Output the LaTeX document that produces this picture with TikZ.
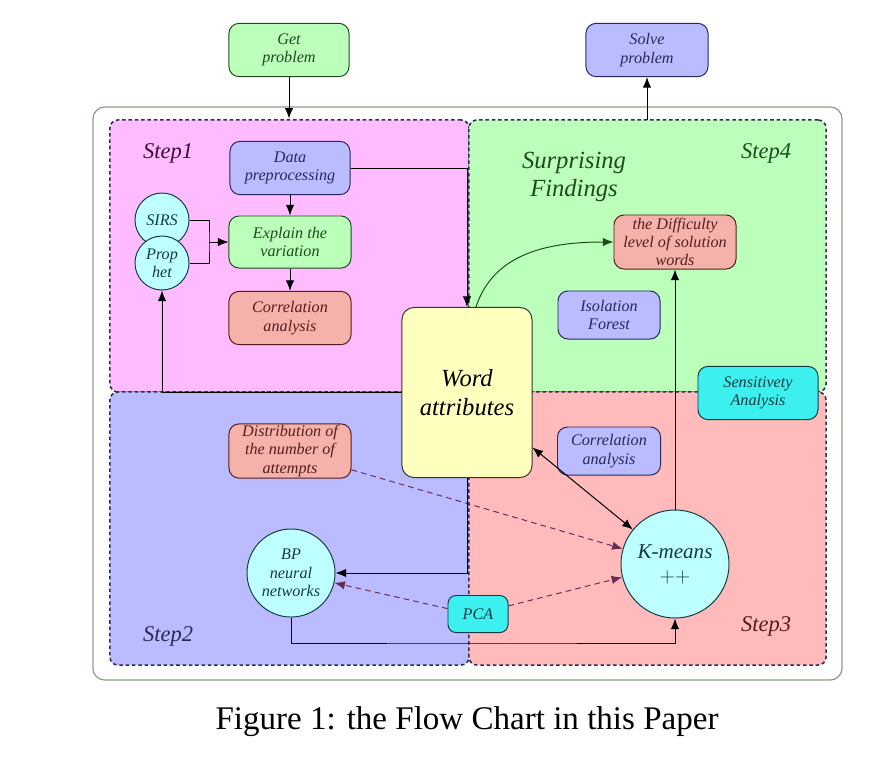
\documentclass[tikz,border=0pt]{standalone}
\usepackage{fontspec}
\setmainfont{Liberation Serif}
\usepackage{tikz}
\usetikzlibrary{arrows.meta}
\usepackage{xcolor}

\definecolor{pinkbg}{RGB}{255,187,255}
\definecolor{greenbg}{RGB}{187,255,187}
\definecolor{bluebg}{RGB}{187,187,255}
\definecolor{redbg}{RGB}{255,187,187}
\definecolor{nodered}{RGB}{245,178,170}
\definecolor{cyanlt}{RGB}{190,255,255}
\definecolor{cyandk}{RGB}{60,240,240}
\definecolor{yellowbg}{RGB}{255,255,190}
\definecolor{greenln}{RGB}{30,75,30}
\definecolor{blueln}{RGB}{40,40,90}
\definecolor{redln}{RGB}{85,30,30}
\definecolor{tealln}{RGB}{20,60,65}
\definecolor{regionln}{RGB}{45,45,80}
\definecolor{frameln}{RGB}{140,160,135}
\definecolor{dashln}{RGB}{105,45,85}

\tikzset{
  box/.style={draw, rounded corners=0.25cm, align=center, minimum width=3.05cm,
    minimum height=1.33cm, inner sep=1pt, line width=0.7pt,
    font=\itshape\fontsize{11.5}{13}\selectfont},
  gbox/.style={box, fill=greenbg, draw=greenln, text=greenln},
  bbox/.style={box, fill=bluebg, draw=blueln, text=blueln},
  rbox/.style={box, fill=nodered, draw=redln, text=redln},
  cbox/.style={box, fill=cyandk, draw=tealln, text=tealln},
  circ/.style={circle, draw=tealln, fill=cyanlt, text=tealln, align=center,
    inner sep=0pt, line width=0.7pt, font=\itshape\fontsize{11.5}{13}\selectfont},
  region/.style={draw=regionln, dash pattern=on 2.5pt off 2pt, line width=1.1pt,
    rounded corners=0.2cm, inner sep=0pt, outer sep=0pt},
  arr/.style={-{Latex[length=7.5pt,width=6pt]}, line width=0.7pt},
  darr/.style={arr, dash pattern=on 4pt off 3pt, draw=dashln},
  steplbl/.style={font=\itshape\fontsize{16}{18}\selectfont},
}

\begin{document}
\begin{tikzpicture}[x=0.025cm,y=-0.025cm]
		\useasboundingbox (0,0) rectangle (894,757);
		% FRAME AND REGIONS
		\node[draw=frameln, line width=0.9pt, rounded corners=0.3cm, fill=white,
			minimum width=18.725cm, minimum height=14.325cm] (frame) at (467.5,393.5) {};
		\node[region, fill=pinkbg, minimum width=8.975cm, minimum height=6.8cm] (r1) at (289.5,256) {};
		\node[region, fill=greenbg, minimum width=8.925cm, minimum height=6.8cm] (r4) at (647.5,256) {};
		\node[region, fill=bluebg, minimum width=8.975cm, minimum height=6.825cm] (r2) at (289.5,528.5) {};
		\node[region, fill=redbg, minimum width=8.925cm, minimum height=6.825cm] (r3) at (647.5,528.5) {};
		\node[steplbl, text={rgb,255:red,60;green,15;blue,55}] (s1) at (168,153) {Step1};
		\node[steplbl, text=greenln] (s4) at (766,153) {Step4};
		\node[steplbl, text=blueln] (s2) at (168,636) {Step2};
		\node[steplbl, text=redln] (s3) at (766,626) {Step3};
		\node[align=center, text=greenln, font=\itshape\fontsize{17.5}{20}\selectfont] (surp) at (574,177) {Surprising\\Findings};

		% TOP
		\node[gbox, minimum width=3cm] (get) at (289,50) {Get\\problem};
		\node[bbox] (solve) at (647,50) {Solve\\problem};

		% STEP1
		\node[bbox, minimum width=3cm] (data) at (290,168) {Data\\preprocessing};
		\node[gbox, minimum height=1.3cm] (explain) at (290,242) {Explain the\\variation};
		\node[rbox] (corr1) at (290,318) {Correlation\\analysis};
		\node[circ, minimum size=1.35cm] (sirs) at (162,220) {SIRS};
		\node[circ, minimum size=1.35cm] (prophet) at (162,263) {Prop\\het};

		% CENTRE
		\node[draw=black!80, fill=yellowbg, rounded corners=0.3cm, line width=0.7pt,
			minimum width=3.25cm, minimum height=4.25cm, align=center,
			font=\itshape\fontsize{17.5}{20.5}\selectfont] (word) at (467,392.5) {Word\\attributes};

		% STEP4
		\node[rbox, minimum height=1.35cm] (diff) at (675,242) {the Difficulty\\level of solution\\words};
		\node[bbox, minimum width=2.55cm, minimum height=1.2cm] (iso) at (609,315) {Isolation\\Forest};
		\node[cbox, minimum width=3cm] (sens) at (758,393) {Sensitivety\\Analysis};

		% STEP3
		\node[bbox, minimum width=2.575cm, minimum height=1.2cm] (corr3) at (609,451) {Correlation\\analysis};
		\node[circ, minimum size=2.7cm, font=\itshape\fontsize{15}{17}\selectfont] (kmeans) at (675,564) {K-means\\$++$};

		% STEP2
		\node[rbox] (dist) at (290,451) {Distribution of\\the number of\\attempts};
		\node[circ, minimum size=2.2cm] (bp) at (291,573) {BP\\neural\\networks};
		\node[cbox, minimum width=1.5cm, minimum height=0.925cm, rounded corners=0.2cm] (pca) at (478,614) {PCA};

		% CONNECTORS
		\coordinate (br) at (209,242);
		\coordinate (bot) at (480,643);
		\draw[arr] (get.south) -- ([yshift=1pt]get.south |- r1.north);
		\draw[arr] (solve.south |- r4.north) -- (solve.south);
		\draw[line width=0.7pt] (sirs.east) -| (br) |- (prophet.east);
		\draw[arr] (br) -- (explain.west);
		\draw[arr] (data) -- (explain);
		\draw[arr] (explain) -- (corr1);
		\draw[arr] (data.east) -| (word.north);
		\draw[arr] (word.west) -| (prophet.south);
		\draw[arr, draw=greenln] (word.84) to[out=72,in=180] (diff.west);
		\draw[arr] (kmeans.north) -- (diff.south);
		\draw[arr, {Latex[length=7.5pt,width=6pt]}-{Latex[length=7.5pt,width=6pt]}] (word.-40) -- (kmeans);
		\draw[darr] (dist.-17) -- (kmeans);
		\draw[arr] (word.south) |- (bp.east);
		\draw[darr] (pca.170) -- (bp);
		\draw[darr] (pca.15) -- (kmeans);
		\draw[arr] (bp.south) |- (bot) -| (kmeans.south);

		% CAPTION
		\node[font=\fontsize{23.5}{26}\selectfont] (cap) at (467,722) {Figure 1: the Flow Chart in this Paper};
\end{tikzpicture}
\end{document}
